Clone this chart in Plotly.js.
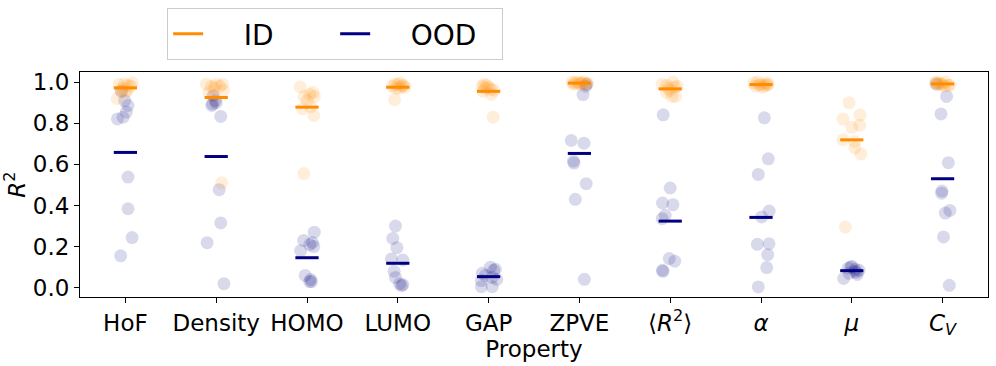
<!DOCTYPE html>
<html>
<head>
<meta charset="utf-8">
<script src="https://cdn.plot.ly/plotly-3.0.1.min.js"></script>
<style>
  html, body { margin: 0; padding: 0; background: #fff; }
  #chart { width: 996px; height: 366px; }
</style>
</head>
<body>
<div id="chart"></div>
<script>
const categories = ["HoF", "Density", "HOMO", "LUMO", "GAP", "ZPVE", "⟨<i>R</i><sup>2</sup>⟩", "<i>α</i>", "<i>μ</i>", "<i>C</i><sub><i>V</i></sub>"];

// R^2 per seed (ID = in distribution)
const idValues = [
  [0.99, 0.99, 0.995, 0.985, 0.98, 0.97, 0.96, 0.95, 0.92, 0.96],
  [0.99, 0.99, 0.99, 0.98, 0.98, 0.97, 0.96, 0.95, 0.93, 0.51],
  [0.976, 0.94, 0.93, 0.95, 0.93, 0.91, 0.88, 0.87, 0.838, 0.555],
  [0.99, 0.995, 0.985, 0.98, 0.99, 0.975, 0.97, 0.98, 0.97, 0.915],
  [0.99, 0.985, 0.98, 0.975, 0.97, 0.965, 0.96, 0.955, 0.94, 0.829],
  [1.0, 0.995, 1.0, 0.99, 0.995, 1.0, 0.99, 0.995, 0.99, 0.995],
  [0.99, 1.0, 0.98, 0.985, 0.975, 0.97, 0.96, 0.95, 0.93, 0.93],
  [0.995, 1.0, 0.99, 0.985, 0.99, 0.995, 0.98, 0.975, 0.985, 0.985],
  [0.90, 0.84, 0.82, 0.79, 0.78, 0.72, 0.71, 0.68, 0.65, 0.295],
  [1.0, 0.995, 0.99, 0.99, 1.0, 0.985, 0.985, 0.99, 0.98, 0.995],
];
const idJitter = [
  [-0.07, -0.01, 0.077, 0.03, 0.06, -0.03, -0.05, 0.0, -0.09, 0.02],
  [-0.107, 0.0, 0.07, 0.04, -0.05, -0.02, 0.08, -0.08, -0.03, 0.06],
  [-0.075, 0.03, -0.03, 0.065, 0.08, 0.0, 0.04, -0.05, 0.075, -0.035],
  [-0.03, 0.03, 0.06, -0.06, 0.0, 0.08, -0.02, 0.045, 0.02, -0.035],
  [-0.05, -0.02, -0.07, 0.0, -0.04, 0.03, 0.06, -0.06, 0.03, 0.05],
  [-0.08, -0.05, -0.02, 0.0, 0.03, 0.05, 0.07, 0.09, -0.065, 0.01],
  [-0.09, 0.03, 0.08, -0.04, 0.05, -0.02, 0.0, -0.04, 0.06, 0.02],
  [-0.08, -0.04, 0.0, 0.04, 0.08, 0.06, -0.06, 0.02, -0.02, 0.07],
  [-0.03, 0.09, -0.096, 0.088, 0.0, -0.096, 0.03, 0.033, 0.1, -0.07],
  [-0.07, -0.04, -0.02, 0.0, 0.03, 0.06, 0.08, -0.05, 0.02, -0.08],
];

// OOD = out of distribution
const oodValues = [
  [0.821, 0.829, 0.854, 0.886, 0.910, 0.955, 0.538, 0.384, 0.244, 0.155],
  [0.934, 0.91, 0.90, 0.894, 0.886, 0.833, 0.477, 0.315, 0.219, 0.020],
  [0.27, 0.23, 0.22, 0.21, 0.20, 0.18, 0.06, 0.04, 0.03, 0.03],
  [0.30, 0.24, 0.195, 0.14, 0.135, 0.08, 0.05, 0.02, 0.015, 0.01],
  [0.10, 0.09, 0.085, 0.07, 0.06, 0.05, 0.04, 0.035, 0.005, 0.005],
  [0.99, 0.98, 0.939, 0.716, 0.703, 0.616, 0.606, 0.506, 0.43, 0.041],
  [0.841, 0.485, 0.412, 0.404, 0.352, 0.336, 0.142, 0.129, 0.085, 0.08],
  [0.826, 0.627, 0.551, 0.373, 0.344, 0.211, 0.214, 0.161, 0.098, 0.004],
  [0.105, 0.10, 0.095, 0.09, 0.085, 0.08, 0.075, 0.07, 0.065, 0.045],
  [0.99, 0.93, 0.845, 0.608, 0.47, 0.46, 0.376, 0.363, 0.247, 0.012],
];
const oodJitter = [
  [-0.088, -0.026, 0.011, 0.029, -0.007, -0.044, 0.029, 0.029, 0.074, -0.052],
  [-0.033, -0.01, 0.0, -0.04, -0.05, 0.05, 0.033, 0.05, -0.1, 0.085],
  [0.08, -0.037, 0.06, 0.03, 0.075, -0.07, -0.02, 0.04, 0.05, 0.03],
  [-0.026, -0.055, -0.01, -0.07, 0.055, -0.04, -0.026, 0.02, 0.055, 0.04],
  [0.02, 0.075, 0.055, -0.07, -0.035, 0.04, 0.09, -0.08, -0.08, 0.04],
  [0.08, 0.07, 0.04, -0.09, 0.05, -0.065, -0.06, 0.075, -0.045, 0.055],
  [-0.077, 0.0, -0.085, 0.03, -0.055, -0.088, -0.01, 0.05, -0.085, -0.08],
  [0.037, 0.08, -0.03, 0.09, 0.007, -0.04, 0.088, 0.074, 0.063, -0.03],
  [0.0, -0.01, -0.04, 0.04, 0.08, 0.03, 0.05, -0.03, 0.06, -0.09],
  [-0.07, 0.044, -0.018, 0.063, -0.007, -0.01, 0.08, 0.03, 0.01, 0.074],
];

const idMeans = [0.972, 0.925, 0.878, 0.975, 0.955, 0.995, 0.967, 0.988, 0.719, 0.991];
const oodMeans = [0.658, 0.638, 0.146, 0.119, 0.054, 0.653, 0.324, 0.342, 0.083, 0.530];

const ORANGE = "#ff8c00";
const NAVY = "#000080";
const FONT = "DejaVu Sans, sans-serif";
const halfBar = 0.128;
const nb = (n) => "\u00a0".repeat(n);

function pointsTrace(values, jitter, color) {
  const x = [];
  const y = [];
  values.forEach((vals, i) => {
    vals.forEach((v, k) => {
      x.push(i + jitter[i][k]);
      y.push(v);
    });
  });
  return {
    type: "scatter",
    mode: "markers",
    x, y,
    showlegend: false,
    hoverinfo: "y",
    marker: { size: 13, color: color, opacity: 0.15, line: { width: 0 } },
  };
}

function meanTrace(means, color, name) {
  const x = [];
  const y = [];
  means.forEach((m, i) => {
    x.push(i - halfBar, i + halfBar, null);
    y.push(m, m, null);
  });
  return {
    type: "scatter",
    mode: "lines",
    name: name,
    x, y,
    line: { color: color, width: 3 },
    hoverinfo: "y",
  };
}

const traces = [
  pointsTrace(oodValues, oodJitter, NAVY),
  pointsTrace(idValues, idJitter, ORANGE),
  meanTrace(idMeans, ORANGE, nb(4) + "ID"),
  meanTrace(oodMeans, NAVY, nb(4) + "OOD"),
];

const axisCommon = {
  showline: true,
  mirror: true,
  linecolor: "#000",
  linewidth: 1,
  ticks: "outside",
  ticklen: 5,
  tickwidth: 1,
  tickcolor: "#000",
  showgrid: false,
  zeroline: false,
  tickfont: { family: FONT, size: 23, color: "#000" },
};

const layout = {
  width: 996,
  height: 366,
  margin: { l: 80, r: 8, t: 72, b: 69 },
  paper_bgcolor: "#fff",
  plot_bgcolor: "#fff",
  font: { family: FONT, color: "#000" },
  xaxis: Object.assign({}, axisCommon, {
    range: [-0.5, 9.5],
    tickvals: categories.map((_, i) => i),
    ticktext: categories,
    title: { text: "Property", font: { family: FONT, size: 23 }, standoff: 0 },
  }),
  yaxis: Object.assign({}, axisCommon, {
    range: [-0.045, 1.049],
    tickvals: [0, 0.2, 0.4, 0.6, 0.8, 1.0],
    tickformat: ".1f",
    title: { text: "<i>R</i><sup>2</sup>", font: { family: FONT, size: 23 }, standoff: 10 },
  }),
  legend: {
    orientation: "h",
    x: 0.096,
    xanchor: "left",
    y: 1.284,
    yanchor: "top",
    bgcolor: "#fff",
    bordercolor: "#cccccc",
    borderwidth: 1,
    font: { family: FONT, size: 28, color: "#000" },
    entrywidth: 122,
  },
  showlegend: true,
};

Plotly.newPlot("chart", traces, layout, { displayModeBar: false, staticPlot: true });
</script>
</body>
</html>
